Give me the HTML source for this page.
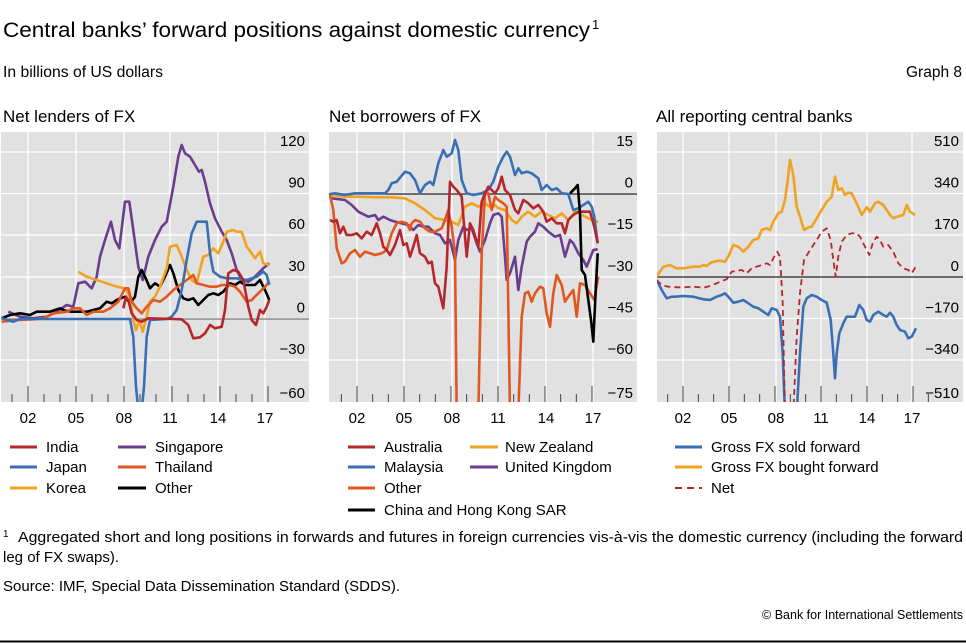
<!DOCTYPE html>
<html><head><meta charset="utf-8"><style>
body{margin:0;width:966px;height:643px;background:#fff;overflow:hidden;font-family:"Liberation Sans",sans-serif;color:#000}
svg{position:absolute;left:0;top:0}
</style></head><body>
<svg id="s" width="966" height="643" xmlns="http://www.w3.org/2000/svg" font-family="Liberation Sans, sans-serif">
<text x="3" y="37" font-size="21" textLength="587" lengthAdjust="spacingAndGlyphs">Central banks’ forward positions against domestic currency</text>
<text x="592" y="29" font-size="13">1</text>
<text x="3" y="77" font-size="15.5" textLength="160" lengthAdjust="spacingAndGlyphs">In billions of US dollars</text>
<text x="962" y="77" font-size="15.5" text-anchor="end">Graph 8</text>
<text x="3" y="122" font-size="17">Net lenders of FX</text>
<text x="329" y="122" font-size="17">Net borrowers of FX</text>
<text x="656" y="122" font-size="17">All reporting central banks</text>
<g id="g"></g>
<g font-size="15">
<line x1="10" y1="447" x2="37" y2="447" stroke="#b5272d" stroke-width="3"/><text x="46" y="452">India</text>
<line x1="10" y1="467" x2="37" y2="467" stroke="#3a6fb5" stroke-width="3"/><text x="46" y="472">Japan</text>
<line x1="10" y1="488" x2="37" y2="488" stroke="#f0a323" stroke-width="3"/><text x="46" y="493">Korea</text>
<line x1="118" y1="447" x2="146" y2="447" stroke="#6a3d8f" stroke-width="3"/><text x="155" y="452">Singapore</text>
<line x1="118" y1="467" x2="146" y2="467" stroke="#e0571f" stroke-width="3"/><text x="155" y="472">Thailand</text>
<line x1="118" y1="488" x2="146" y2="488" stroke="#000" stroke-width="3"/><text x="155" y="493">Other</text>
<line x1="348" y1="447" x2="375" y2="447" stroke="#b5272d" stroke-width="3"/><text x="384" y="452">Australia</text>
<line x1="348" y1="467" x2="375" y2="467" stroke="#3a6fb5" stroke-width="3"/><text x="384" y="472">Malaysia</text>
<line x1="348" y1="488" x2="375" y2="488" stroke="#e0571f" stroke-width="3"/><text x="384" y="493">Other</text>
<line x1="348" y1="510" x2="375" y2="510" stroke="#000" stroke-width="3"/><text x="384" y="515">China and Hong Kong SAR</text>
<line x1="470" y1="447" x2="498" y2="447" stroke="#f0a323" stroke-width="3"/><text x="505" y="452">New Zealand</text>
<line x1="470" y1="467" x2="498" y2="467" stroke="#6a3d8f" stroke-width="3"/><text x="505" y="472">United Kingdom</text>
<line x1="675" y1="447" x2="702" y2="447" stroke="#3a6fb5" stroke-width="3"/><text x="711" y="452">Gross FX sold forward</text>
<line x1="675" y1="467" x2="702" y2="467" stroke="#f0a323" stroke-width="3"/><text x="711" y="472">Gross FX bought forward</text>
<line x1="675" y1="488" x2="702" y2="488" stroke="#b5272d" stroke-width="2" stroke-dasharray="7,5"/><text x="711" y="493">Net</text>
</g>
<g font-size="14.5">
<text x="3" y="537" font-size="10">1</text>
<text x="18" y="542" textLength="945" lengthAdjust="spacingAndGlyphs">Aggregated short and long positions in forwards and futures in foreign currencies vis-à-vis the domestic currency (including the forward</text>
<text x="3" y="562" textLength="116" lengthAdjust="spacingAndGlyphs">leg of FX swaps).</text>
<text x="3" y="591" textLength="397" lengthAdjust="spacingAndGlyphs">Source: IMF, Special Data Dissemination Standard (SDDS).</text>
<text x="963" y="619" font-size="12.5" text-anchor="end">© Bank for International Settlements</text>
</g>
<line x1="0" y1="641.5" x2="966" y2="641.5" stroke="#000" stroke-width="2"/>
</svg>
<script>
var NS="http://www.w3.org/2000/svg",G=document.getElementById('g');
function el(t,a,p){var e=document.createElementNS(NS,t);for(var k in a)e.setAttribute(k,a[k]);(p||G).appendChild(e);return e}
var panels=[
{off:0,x0:1,x1:309,years:[28,76,124,170,218,265],labels:["120","90","60","30","0","−30","−60"],zero:319,
series:[
["#6a3d8f",[25,575,60,590,100,595,140,590,170,575,200,555,220,560,235,490,255,485,275,505,290,470,300,410,315,360,333,305,345,360,358,385,375,245,388,245,400,330,415,440,428,480,445,410,465,360,485,320,500,305,520,200,535,110,545,75,555,100,570,110,585,135,597,155,605,150,615,185,630,250,645,295,665,335,680,360,695,400,710,450,725,480,745,485,760,475,775,460,790,445,808,430]],
["#000",[5,595,30,585,60,580,90,585,110,575,150,575,165,570,180,565,195,572,215,575,240,575,260,575,280,570,300,565,320,545,335,550,350,540,362,535,375,530,390,550,405,530,415,470,425,450,435,470,450,505,465,490,480,500,495,470,510,435,520,460,535,510,550,535,565,540,580,535,595,555,610,540,625,525,640,520,655,525,670,515,690,490,705,495,720,485,735,495,750,495,765,495,780,480,795,510,808,540]],
["#f0a323",[235,455,260,470,290,480,320,490,350,500,375,505,390,530,400,600,408,630,418,600,428,635,440,590,450,545,465,530,480,500,500,445,510,380,530,375,545,410,560,450,575,480,590,490,600,450,610,410,625,405,640,385,655,400,670,365,680,335,700,330,710,335,725,335,740,380,755,400,765,415,780,395,790,430,808,435]],
["#e0571f",[5,605,50,600,100,598,130,595,160,580,200,575,220,565,240,565,260,585,280,575,310,575,330,565,355,545,375,505,385,505,395,545,410,565,425,580,440,560,460,540,480,545,500,530,520,510,540,495,560,480,580,465,590,490,610,495,630,500,650,500,665,495,690,495,705,500,720,515,740,545,755,540,775,520,795,500,808,485]],
["#3a6fb5",[5,595,40,605,60,597,390,597,400,650,408,800,415,870,425,870,432,800,440,650,450,600,500,597,515,590,530,570,545,510,560,420,575,340,590,305,620,305,630,400,640,455,660,470,680,475,710,475,740,480,770,470,790,455,800,465,808,495]],
["#b5272d",[370,565,378,530,385,540,395,580,410,600,425,605,445,595,520,597,545,598,565,615,580,655,600,652,615,640,630,615,645,625,665,620,675,570,685,460,700,450,715,455,730,480,745,560,755,600,768,615,780,570,790,580,800,560,808,540]]
]},
{off:325,x0:329,x1:637,years:[357,404,452,498,546,593],labels:["15","0","−15","−30","−45","−60","−75"],zero:194,
series:[
["#f0a323",[15,225,60,230,100,230,150,232,200,232,240,235,270,250,300,270,330,295,360,300,380,305,400,315,420,260,440,250,460,260,480,250,500,265,510,255,520,265,540,270,560,300,575,310,590,290,610,275,630,290,650,275,670,285,690,295,710,280,730,300,750,275,770,285,790,295,810,305,820,305]],
["#6a3d8f",[20,235,60,240,80,255,100,275,130,290,150,285,160,300,175,290,195,300,210,305,230,310,250,315,265,330,280,315,295,320,310,320,330,340,345,345,360,370,375,360,390,420,400,360,415,320,425,330,440,325,455,370,465,395,480,360,495,310,505,285,520,280,530,290,540,410,545,480,555,460,570,410,580,510,590,440,605,365,615,350,630,335,640,310,655,320,670,335,690,350,705,345,720,410,735,360,745,370,760,400,775,420,785,440,795,415,805,390,818,388]],
["#e0571f",[15,225,25,270,35,385,50,430,60,425,75,400,90,390,105,410,120,395,135,400,150,405,170,400,185,390,200,340,215,310,230,305,245,310,255,330,260,310,270,300,285,305,300,325,315,335,330,335,350,325,360,300,370,270,380,320,390,400,395,880,460,880,470,400,480,220,490,220,500,270,510,230,520,240,535,250,545,260,555,880,580,880,590,590,600,520,610,515,620,545,630,520,645,500,655,505,665,580,675,620,685,520,695,465,710,495,720,545,730,530,745,510,755,590,765,490,780,495,795,520,808,540,820,470]],
["#3a6fb5",[15,222,30,220,60,225,90,220,180,220,190,210,200,190,215,185,240,155,255,160,270,180,285,220,300,195,315,185,325,195,340,130,355,90,365,110,380,100,390,60,400,90,410,180,425,220,445,225,470,220,490,210,505,185,520,140,535,110,545,95,555,110,570,165,580,145,590,160,605,155,620,160,640,175,650,210,665,195,680,210,695,205,710,220,730,222,745,270,760,265,775,255,790,245,800,260,808,290,818,370]],
["#b5272d",[15,300,25,305,35,300,45,340,55,320,65,345,80,345,95,340,110,355,125,335,140,345,155,310,165,340,175,380,185,390,195,405,210,375,225,330,235,375,245,370,255,410,265,380,275,345,285,400,300,410,310,430,320,425,330,490,340,500,355,565,365,440,375,185,385,200,395,210,410,230,425,410,435,310,445,330,460,380,470,245,480,220,490,200,500,210,510,220,520,205,530,170,540,210,555,225,570,270,580,280,595,240,610,250,625,265,640,255,655,275,665,305,680,295,695,310,710,310,720,340,730,300,745,285,760,275,775,275,795,275,808,320,818,370]],
["#000",[735,220,750,205,758,195,765,280,770,450,780,465,790,540,798,600,805,665,812,510,818,400]]
]},
{off:650,x0:657,x1:963,years:[683,729,776,821,867,912],labels:["510","340","170","0","−170","−340","−510"],zero:277,
series:[
["#f0a323",[20,470,30,455,40,440,60,435,70,440,80,445,100,445,130,440,150,440,160,435,170,438,180,430,190,425,210,422,225,425,235,410,250,375,265,380,280,395,295,380,310,360,325,355,335,330,350,325,360,330,370,305,385,280,395,275,405,240,412,190,420,120,430,165,440,260,450,290,462,330,475,322,485,320,500,295,515,270,530,245,545,230,555,170,565,210,575,205,585,225,595,218,605,220,615,240,625,260,635,285,650,262,660,275,675,250,685,245,700,255,710,270,720,285,730,295,740,290,760,285,770,255,780,275,795,285]],
["#3a6fb5",[20,480,35,510,50,535,65,530,75,530,100,528,130,530,160,538,180,540,190,535,200,530,215,525,225,520,235,530,250,548,265,545,280,540,295,550,310,560,325,565,340,575,355,585,365,565,380,570,390,590,398,700,405,880,440,880,450,700,460,560,470,535,485,525,500,530,515,540,530,548,542,600,550,700,555,775,560,700,568,640,580,610,590,590,605,590,615,590,628,555,640,570,650,600,660,605,670,585,685,575,700,585,710,590,720,578,730,590,740,615,750,630,765,635,775,655,785,650,798,625]],
["#b5272d",[20,480,35,495,55,500,80,502,100,502,130,500,160,503,180,498,200,490,215,483,230,478,245,455,260,452,275,450,290,460,305,445,320,440,335,435,350,430,360,435,370,415,382,395,390,410,398,550,405,880,430,880,440,650,450,520,462,420,480,390,500,360,515,335,530,325,542,360,550,420,557,470,565,410,575,365,590,345,605,340,620,340,630,350,645,380,658,405,668,370,680,350,690,360,700,380,715,375,730,395,745,430,760,445,775,450,785,460,797,440],1]
]}];
var gy=[152,193.5,235,277,318.5,360,401];
panels.forEach(function(p,i){
 var top=132,bot=402,w=p.x1-p.x0;
 el('rect',{x:p.x0,y:top,width:w,height:bot-top,fill:'#e1e1e1'});
 gy.slice(0,6).forEach(function(y){el('line',{x1:p.x0,x2:p.x1,y1:y,y2:y,stroke:'#fff','stroke-width':1.3})});
 p.years.forEach(function(x){el('line',{x1:x,x2:x,y1:top,y2:bot,stroke:'#fff','stroke-width':1.3})});
 var step=(p.years[1]-p.years[0])/3;
 for(var k=-1;k<18;k++){var x=p.years[0]+k*step;if(x<p.x0+3||x>p.x1-30)continue;var maj=(k%3==0);
  el('line',{x1:x,x2:x,y1:maj?386:394,y2:bot,stroke:'#444','stroke-width':1});}
 el('line',{x1:p.x0,x2:p.x1,y1:p.zero,y2:p.zero,stroke:i==0?'#777':'#222','stroke-width':1.2});
 var cp=el('clipPath',{id:'c'+i});el('rect',{x:p.x0,y:top,width:w,height:bot-top},cp);
 var g=el('g',{'clip-path':'url(#c'+i+')'});
 p.series.forEach(function(s){var d=s[1],pts=[];for(var j=0;j<d.length;j+=2)pts.push((p.off+d[j]/3).toFixed(1)+','+(120+d[j+1]/3).toFixed(1));
  var a={points:pts.join(' '),fill:'none',stroke:s[0],'stroke-width':s[2]?1.8:2.6,'stroke-linejoin':'round'};if(s[2])a['stroke-dasharray']='6,4';el('polyline',a,g);});
 p.labels.forEach(function(t,j){var y=gy[j]-6;if(j==6)y=398;var e=el('text',{x:p.x1-4,y:y,'font-size':15,'text-anchor':'end'});e.textContent=t;});
 ["02","05","08","11","14","17"].forEach(function(t,j){var e=el('text',{x:p.years[j],y:423,'font-size':15,'text-anchor':'middle'});e.textContent=t;});
});
</script>
</body></html>
